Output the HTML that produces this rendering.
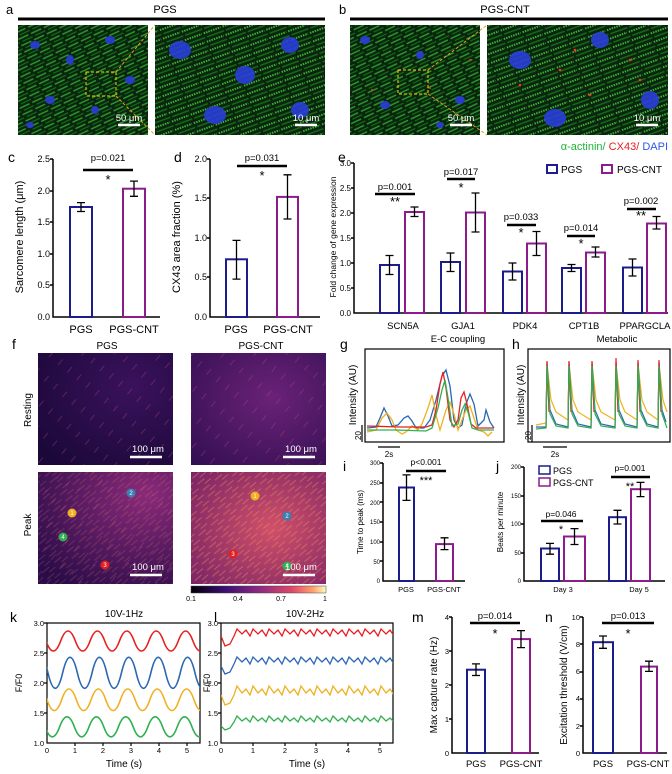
<!DOCTYPE html>
<html><head><meta charset="utf-8"><style>
html,body{margin:0;padding:0;background:#fff}
svg{display:block;font-family:"Liberation Sans",sans-serif}
</style></head><body>
<svg width="672" height="774" viewBox="0 0 672 774" xmlns="http://www.w3.org/2000/svg">
<defs>
<linearGradient id="cb" x1="0" x2="1" y1="0" y2="0">
<stop offset="0" stop-color="#000004"/><stop offset="0.25" stop-color="#3b0f70"/><stop offset="0.5" stop-color="#8c2981"/><stop offset="0.75" stop-color="#de4968"/><stop offset="0.9" stop-color="#fe9f6d"/><stop offset="1" stop-color="#fcfdbf"/></linearGradient>
<radialGradient id="rp" cx="0.7" cy="0.3" r="0.9"><stop offset="0" stop-color="#3a125c"/><stop offset="1" stop-color="#1a0838"/></radialGradient>
<radialGradient id="rc" cx="0.6" cy="0.4" r="0.9"><stop offset="0" stop-color="#6a2278"/><stop offset="1" stop-color="#2e0d4e"/></radialGradient>
<radialGradient id="pp" cx="0.8" cy="0.2" r="1"><stop offset="0" stop-color="#8a2a7a"/><stop offset="1" stop-color="#2a0c4a"/></radialGradient>
<radialGradient id="pc" cx="0.6" cy="0.5" r="0.9"><stop offset="0" stop-color="#d0506a"/><stop offset="1" stop-color="#6a1c66"/></radialGradient>
<pattern id="fib" width="14" height="7" patternUnits="userSpaceOnUse" patternTransform="rotate(-25)">
<rect width="14" height="7" fill="#0a240d"/><line x1="0" y1="1.5" x2="11" y2="1.5" stroke="#2aa02c" stroke-width="1.4"/><line x1="3" y1="5" x2="14" y2="5" stroke="#176a1c" stroke-width="1.2"/></pattern>
<pattern id="fib2" width="20" height="9" patternUnits="userSpaceOnUse" patternTransform="rotate(-20)">
<rect width="20" height="9" fill="#0a240d"/><line x1="0" y1="2" x2="18" y2="2" stroke="#38b234" stroke-width="2" stroke-dasharray="1.5,1"/><line x1="2" y1="6.5" x2="20" y2="6.5" stroke="#176a1c" stroke-width="1.6"/></pattern>
<pattern id="str" width="16" height="8" patternUnits="userSpaceOnUse" patternTransform="rotate(-40)">
<line x1="0" y1="2" x2="9" y2="2" stroke="#f08050" stroke-width="1.2" opacity="0.45"/><line x1="6" y1="6" x2="14" y2="6" stroke="#ffb060" stroke-width="1" opacity="0.35"/></pattern>
<pattern id="str2" width="22" height="12" patternUnits="userSpaceOnUse" patternTransform="rotate(-50)">
<line x1="0" y1="3" x2="7" y2="3" stroke="#c04a80" stroke-width="1" opacity="0.35"/></pattern>
<clipPath id="ck"><rect x="47" y="623" width="153" height="120"/></clipPath>
<clipPath id="cl"><rect x="221" y="623" width="172" height="120"/></clipPath>
</defs>

<rect x="18" y="25" width="130" height="110" fill="url(#fib)"/>
<rect x="155" y="25" width="170" height="110" fill="url(#fib2)"/>
<rect x="350" y="25" width="130" height="110" fill="url(#fib)"/>
<rect x="487" y="25" width="181" height="110" fill="url(#fib2)"/>
<g fill="#2a3ed8" opacity="0.9">
<ellipse cx="35" cy="45" rx="5" ry="4"/><ellipse cx="70" cy="60" rx="4" ry="5"/><ellipse cx="110" cy="40" rx="5" ry="4"/><ellipse cx="50" cy="100" rx="5" ry="4"/><ellipse cx="95" cy="110" rx="4" ry="4"/><ellipse cx="130" cy="80" rx="5" ry="4"/><ellipse cx="30" cy="125" rx="4" ry="3"/>
<ellipse cx="180" cy="50" rx="11" ry="9"/><ellipse cx="245" cy="75" rx="10" ry="9"/><ellipse cx="290" cy="45" rx="9" ry="8"/><ellipse cx="215" cy="115" rx="11" ry="9"/><ellipse cx="300" cy="110" rx="9" ry="8"/>
<ellipse cx="365" cy="40" rx="5" ry="4"/><ellipse cx="420" cy="55" rx="4" ry="4"/><ellipse cx="460" cy="100" rx="5" ry="4"/><ellipse cx="385" cy="105" rx="5" ry="4"/><ellipse cx="440" cy="125" rx="4" ry="3"/>
<ellipse cx="520" cy="60" rx="11" ry="9"/><ellipse cx="600" cy="40" rx="9" ry="8"/><ellipse cx="555" cy="118" rx="11" ry="9"/><ellipse cx="650" cy="100" rx="9" ry="9"/>
</g>
<g fill="#ff3020"><circle cx="400" cy="70" r="1"/><circle cx="430" cy="88" r="1"/><circle cx="470" cy="60" r="1"/><circle cx="372" cy="90" r="1"/><circle cx="520" cy="85" r="1.3"/><circle cx="560" cy="70" r="1.3"/><circle cx="590" cy="95" r="1.3"/><circle cx="630" cy="60" r="1.3"/><circle cx="640" cy="80" r="1.3"/><circle cx="575" cy="50" r="1.3"/></g>
<rect x="86" y="72" width="30" height="24" fill="none" stroke="#f5d010" stroke-dasharray="3,2"/>
<rect x="398" y="70" width="30" height="24" fill="none" stroke="#f5d010" stroke-dasharray="3,2"/>
<g stroke="#e8a020" stroke-dasharray="3,2"><line x1="116" y1="72" x2="155" y2="25"/><line x1="116" y1="96" x2="155" y2="135"/><line x1="428" y1="70" x2="487" y2="25"/><line x1="428" y1="94" x2="487" y2="135"/></g>
<g stroke="#fff" stroke-width="2.5"><line x1="118" y1="125" x2="140" y2="125"/><line x1="295" y1="125" x2="317" y2="125"/><line x1="450" y1="125" x2="472" y2="125"/><line x1="636" y1="125" x2="658" y2="125"/></g>
<g fill="#fff" font-size="9.5" text-anchor="middle"><text x="129" y="121">50 μm</text><text x="306" y="121">10 μm</text><text x="461" y="121">50 μm</text><text x="647" y="121">10 μm</text></g>

<rect x="38" y="353" width="135" height="112" fill="url(#rp)"/><rect x="38" y="353" width="135" height="112" fill="url(#str2)"/>
<rect x="191" y="353" width="135" height="112" fill="url(#rc)"/><rect x="191" y="353" width="135" height="112" fill="url(#str2)"/>
<rect x="38" y="472" width="135" height="112" fill="url(#pp)"/><rect x="38" y="472" width="135" height="112" fill="url(#str2)"/><rect x="38" y="472" width="135" height="112" fill="url(#str)" opacity="0.5"/>
<rect x="191" y="472" width="135" height="112" fill="url(#pc)"/><rect x="191" y="472" width="135" height="112" fill="url(#str)"/>
<g stroke="#fff" stroke-width="2.5"><line x1="130" y1="457" x2="162" y2="457"/><line x1="283" y1="457" x2="315" y2="457"/><line x1="130" y1="575" x2="162" y2="575"/><line x1="283" y1="575" x2="315" y2="575"/></g>
<rect x="191" y="586" width="135" height="7" fill="url(#cb)" stroke="#444" stroke-width="0.5"/>
<circle cx="72" cy="513" r="4.5" fill="#f0b020"/><circle cx="131" cy="493" r="4.5" fill="#3a80b0"/><circle cx="105" cy="565" r="4.5" fill="#e02020"/><circle cx="63" cy="537" r="4.5" fill="#30b050"/>
<circle cx="255" cy="496" r="4.5" fill="#f0b020"/><circle cx="287" cy="516" r="4.5" fill="#3a80b0"/><circle cx="233" cy="554" r="4.5" fill="#e02020"/><circle cx="287" cy="566" r="4.5" fill="#30b050"/>

<g stroke="#000" stroke-width="1.5" fill="none">
<path d="M53,159V317H160 M50,159h3 M50,191h3 M50,222h3 M50,254h3 M50,285h3"/>
<path d="M210,159V317H320 M207,159h3 M207,198h3 M207,238h3 M207,277h3"/>
<path d="M354,163V313H668 M351,163h3 M351,188h3 M351,213h3 M351,238h3 M351,263h3 M351,288h3"/>
<path d="M383,463V581H465 M380,463h3 M380,483h3 M380,502h3 M380,522h3 M380,542h3 M380,561h3"/>
<path d="M524,467V581H665 M521,467h3 M521,496h3 M521,524h3 M521,553h3"/>
<path d="M452,617V753H539 M449,617h3 M449,651h3 M449,685h3 M449,719h3"/>
<path d="M583,617V753H667 M580,617h3 M580,644h3 M580,672h3 M580,699h3 M580,726h3"/>
</g>
<g stroke="#000" stroke-width="1.2" fill="none">
<rect x="365" y="349" width="139" height="93"/><rect x="528" y="349" width="142" height="93"/>
<rect x="47" y="623" width="153" height="120"/><rect x="221" y="623" width="172" height="120"/>
<path d="M362,425V442 M378,447H400 M532,425V442 M543,447H567"/>
<path d="M44,623h3 M44,653h3 M44,683h3 M44,713h3 M218,623h3 M218,653h3 M218,683h3 M218,713h3 M75,743v3 M103,743v3 M131,743v3 M159,743v3 M187,743v3 M253,743v3 M285,743v3 M316,743v3 M348,743v3 M380,743v3"/>
</g>

<g fill="#fff" stroke-width="2">
<g stroke="#1c1c8c">
<rect x="70" y="207" width="22" height="110"/><rect x="226" y="259.3" width="21" height="57.7"/>
<rect x="380" y="265" width="19" height="48"/><rect x="441" y="262" width="19" height="51"/><rect x="503" y="271.5" width="19" height="41.5"/><rect x="562" y="268" width="19" height="45"/><rect x="623" y="267.5" width="19" height="45.5"/>
<rect x="399" y="487.5" width="15" height="93.5"/><rect x="541" y="548.5" width="18" height="32.5"/><rect x="609" y="517.2" width="17" height="63.8"/>
<rect x="467" y="669.7" width="18" height="83.3"/><rect x="593" y="642.2" width="20" height="110.8"/>
<rect x="547" y="165" width="10" height="8"/><rect x="539" y="466" width="11" height="8" stroke-width="1.5"/>
</g>
<g stroke="#8c1c8c">
<rect x="123" y="188.7" width="22" height="128.3"/><rect x="277" y="196.9" width="21" height="120.1"/>
<rect x="405" y="212" width="19" height="101"/><rect x="466" y="212.5" width="19" height="100.5"/><rect x="527" y="243.5" width="19" height="69.5"/><rect x="586" y="252.5" width="19" height="60.5"/><rect x="647" y="223.5" width="19" height="89.5"/>
<rect x="436" y="544.1" width="17" height="36.9"/><rect x="564" y="536.5" width="21" height="44.5"/><rect x="631" y="489.2" width="19" height="91.8"/>
<rect x="512" y="639.1" width="18" height="113.9"/><rect x="641" y="666.6" width="16" height="86.4"/>
<rect x="602" y="165" width="10" height="8"/><rect x="539" y="478" width="11" height="8" stroke-width="1.5"/>
</g></g>
<g stroke="#000" stroke-width="1.3" fill="none">
<path d="M77,202.6h8M81,202.6V211.5M77,211.5h8 M130,181.1h8M134,181.1V196.3M130,196.3h8"/>
<path d="M232.5,240.4h8M236.5,240.4V279.1M232.5,279.1h8 M283.5,174.8h8M287.5,174.8V219M283.5,219h8"/>
<path d="M385.5,255.5h8M389.5,255.5V274.5M385.5,274.5h8 M410.5,207h8M414.5,207V216.5M410.5,216.5h8"/>
<path d="M446.5,253h8M450.5,253V271.5M446.5,271.5h8 M471.5,193h8M475.5,193V232M471.5,232h8"/>
<path d="M508.5,263h8M512.5,263V280M508.5,280h8 M532.5,231.5h8M536.5,231.5V255.5M532.5,255.5h8"/>
<path d="M567.5,264.5h8M571.5,264.5V271.5M567.5,271.5h8 M591.5,247h8M595.5,247V257M591.5,257h8"/>
<path d="M628.5,259h8M632.5,259V276M628.5,276h8 M652.5,216.5h8M656.5,216.5V229M652.5,229h8"/>
<path d="M402.5,474.9h8M406.5,474.9V500.4M402.5,500.4h8 M440.5,537.8h8M444.5,537.8V549.6M440.5,549.6h8"/>
<path d="M546,543.4h8M550,543.4V554.2M546,554.2h8 M570.5,528.6h8M574.5,528.6V544.5M570.5,544.5h8"/>
<path d="M613.5,510.3h8M617.5,510.3V524M613.5,524h8 M636.5,482.4h8M640.5,482.4V496.6M636.5,496.6h8"/>
<path d="M472,663.9h8M476,663.9V675.5M472,675.5h8 M517,630.6h8M521,630.6V647.6M517,647.6h8"/>
<path d="M599,636h8M603,636V648.3M599,648.3h8 M645,661.2h8M649,661.2V671.4M645,671.4h8"/>
</g>
<g stroke="#000" stroke-width="2.5">
<line x1="83" y1="170" x2="133" y2="170"/><line x1="237" y1="166" x2="287" y2="166"/>
<line x1="375" y1="194" x2="415" y2="194"/><line x1="447" y1="179" x2="475" y2="179"/><line x1="507" y1="225" x2="536" y2="225"/><line x1="567" y1="236" x2="595" y2="236"/><line x1="627" y1="209" x2="656" y2="209"/>
<line x1="406" y1="471" x2="446" y2="471"/><line x1="541" y1="521" x2="583" y2="521"/><line x1="611" y1="477" x2="650" y2="477"/>
<line x1="470" y1="623" x2="520" y2="623"/><line x1="602" y1="623" x2="654" y2="623"/>
</g>

<g fill="none" stroke-width="1.3">
<polyline stroke="#2a68b0" points="367,428 376,427 380,418 384,408 388,416 392,426 398,425 404,418 408,416 412,421 416,428 424,428 430,420 436,400 442,376 446,370 450,386 454,420 458,428 462,425 466,404 470,394 474,404 478,426 484,420 486,410 490,422 494,428"/>
<polyline stroke="#f0b020" points="367,432 376,430 382,418 387,413 392,420 396,430 402,434 406,432 412,426 418,430 422,424 428,408 432,395 436,415 440,430 446,410 450,402 454,414 458,430 462,420 466,410 470,406 474,418 478,430 484,432 488,436 492,432"/>
<polyline stroke="#e82020" points="367,426 400,427 426,427 432,425 436,410 440,384 443,372 446,388 450,420 454,427 458,420 461,398 464,392 467,404 471,424 476,428 494,428"/>
<polyline stroke="#30b050" points="367,430 396,430 426,431 432,428 438,408 442,390 445,380 448,398 452,426 458,424 462,410 465,404 468,412 472,428 478,430 494,430"/>
</g>
<g fill="none" stroke-width="1.2">
<path stroke="#f0b020" d="M536,425 L546,423 L547,364 L551,400 L556,412 L568,420 L569,364 L573,400 L578,412 L591,420 L592,364 L596,400 L601,412 L615,420 L616,364 L620,400 L625,412 L637,420 L638,364 L642,400 L647,412 L658,420 L659,364 L663,400 L667,412"/>
<path stroke="#2a68b0" d="M536,427 L546,427 L547,362 L550,410 L556,424 L568,427 L569,362 L572,410 L578,424 L591,427 L592,362 L595,410 L601,424 L615,427 L616,362 L619,410 L625,424 L637,427 L638,362 L641,410 L647,424 L658,427 L659,362 L662,410 L666,422"/>
<path stroke="#e82020" d="M546,428 L547,361 L549,412 M568,428 L569,361 L571,412 M591,428 L592,361 L594,412 M615,428 L616,358 L618,412 M637,428 L638,360 L640,412 M658,428 L659,360 L661,412"/>
<path stroke="#30b050" d="M536,429 L546,428 L547,366 L550,414 L556,426 L568,428 L569,366 L572,414 L578,426 L591,428 L592,366 L595,414 L601,426 L615,428 L616,366 L619,414 L625,426 L637,428 L638,366 L641,414 L647,426 L658,428 L659,366 L662,414 L667,428"/>
</g>
<g fill="none" stroke-width="1.6" clip-path="url(#ck)">
<path stroke="#e82020" d="M31.25,641 Q38.6,621 45.95,641 T60.65,641 T75.35,641 T90.05,641 T104.75,641 T119.45,641 T134.15,641 T148.85,641 T163.55,641 T178.25,641 T192.95,641 T207.65,641"/>
<path stroke="#2a68b0" d="M33.25,672.8 Q40.6,641.8 47.95,672.8 T62.65,672.8 T77.35,672.8 T92.05,672.8 T106.75,672.8 T121.45,672.8 T136.15,672.8 T150.85,672.8 T165.55,672.8 T180.25,672.8 T194.95,672.8 T209.65,672.8"/>
<path stroke="#f0b020" d="M32.25,699.8 Q39.6,678.2 46.95,699.8 T61.65,699.8 T76.35,699.8 T91.05,699.8 T105.75,699.8 T120.45,699.8 T135.15,699.8 T149.85,699.8 T164.55,699.8 T179.25,699.8 T193.95,699.8 T208.65,699.8"/>
<path stroke="#30b050" d="M30.25,726.8 Q37.6,706.8 44.95,726.8 T59.65,726.8 T74.35,726.8 T89.05,726.8 T103.75,726.8 T118.45,726.8 T133.15,726.8 T147.85,726.8 T162.55,726.8 T177.25,726.8 T191.95,726.8 T206.65,726.8"/>
</g>
<g fill="none" stroke-width="1.3" clip-path="url(#cl)">
<path stroke="#e82020" d="M221,636 l4,10 l5,-2 l4,-8 l3,-7 l5,5 l4,-4 l4,6 l3,-7 l5,5 l4,-4 l4,6 l3,-7 l5,5 l4,-4 l4,6 l3,-7 l5,5 l4,-4 l4,6 l3,-7 l5,5 l4,-4 l4,6 l3,-7 l5,5 l4,-4 l4,6 l3,-7 l5,5 l4,-4 l4,6 l3,-7 l5,5 l4,-4 l4,6 l3,-7 l5,5 l4,-4 l4,6 l3,-7 l5,5 l4,-4 l4,6"/>
<path stroke="#2a68b0" d="M221,666 l4,8 l5,-2 l4,-8 l3,-7 l5,5 l4,-4 l4,6 l3,-7 l5,5 l4,-4 l4,6 l3,-7 l5,5 l4,-4 l4,6 l3,-7 l5,5 l4,-4 l4,6 l3,-7 l5,5 l4,-4 l4,6 l3,-7 l5,5 l4,-4 l4,6 l3,-7 l5,5 l4,-4 l4,6 l3,-7 l5,5 l4,-4 l4,6 l3,-7 l5,5 l4,-4 l4,6 l3,-7 l5,5 l4,-4 l4,6"/>
<path stroke="#f0b020" d="M221,695 l4,10 l5,-2 l4,-8 l3,-9 l5,7 l4,-4 l4,6 l3,-9 l5,7 l4,-4 l4,6 l3,-9 l5,7 l4,-4 l4,6 l3,-9 l5,7 l4,-4 l4,6 l3,-9 l5,7 l4,-4 l4,6 l3,-9 l5,7 l4,-4 l4,6 l3,-9 l5,7 l4,-4 l4,6 l3,-9 l5,7 l4,-4 l4,6 l3,-9 l5,7 l4,-4 l4,6 l3,-9 l5,7 l4,-4 l4,6"/>
<path stroke="#30b050" d="M221,726 l4,4 l5,-2 l4,-6 l3,-6 l5,5 l4,-3 l4,4 l3,-6 l5,5 l4,-3 l4,4 l3,-6 l5,5 l4,-3 l4,4 l3,-6 l5,5 l4,-3 l4,4 l3,-6 l5,5 l4,-3 l4,4 l3,-6 l5,5 l4,-3 l4,4 l3,-6 l5,5 l4,-3 l4,4 l3,-6 l5,5 l4,-3 l4,4 l3,-6 l5,5 l4,-3 l4,4 l3,-6 l5,5 l4,-3 l4,4"/>
</g>

<g font-size="11">
<text x="6" y="14" font-size="13">a</text>
<text x="165" y="13" text-anchor="middle">PGS</text>
<line x1="18" y1="19" x2="325" y2="19" stroke="#000" stroke-width="3"/>
<text x="339" y="14" font-size="13">b</text>
<text x="505" y="13" text-anchor="middle">PGS-CNT</text>
<line x1="350" y1="19" x2="668" y2="19" stroke="#000" stroke-width="3"/>
<text x="668" y="150" text-anchor="end"><tspan fill="#1eb33c">α-actinin/</tspan><tspan fill="#e8201c"> CX43/</tspan><tspan fill="#2a5ae8"> DAPI</tspan></text>
<text x="8" y="162" font-size="14">c</text>
<text x="174" y="162" font-size="14">d</text>
<text x="338" y="162" font-size="14">e</text>
<text x="12" y="349" font-size="14">f</text>
<text x="340" y="349" font-size="14">g</text>
<text x="512" y="349" font-size="14">h</text>
<text x="343" y="471" font-size="14">i</text>
<text x="496" y="471" font-size="14">j</text>
<text x="10" y="622" font-size="14">k</text>
<text x="214" y="622" font-size="14">l</text>
<text x="412" y="622" font-size="14">m</text>
<text x="545" y="622" font-size="14">n</text>
<text transform="translate(23,237) rotate(-90)" text-anchor="middle">Sarcomere length (μm)</text>
<text transform="translate(180,237) rotate(-90)" text-anchor="middle">CX43 area fraction (%)</text>
<text transform="translate(336,237) rotate(-90)" text-anchor="middle" font-size="8.5">Fold change of gene expression</text>
<text x="81" y="333" text-anchor="middle">PGS</text><text x="134" y="333" text-anchor="middle">PGS-CNT</text>
<text x="236" y="333" text-anchor="middle">PGS</text><text x="288" y="333" text-anchor="middle">PGS-CNT</text>
<g font-size="9.5" text-anchor="middle">
<text x="403" y="329">SCN5A</text><text x="463" y="329">GJA1</text><text x="525" y="329">PDK4</text><text x="584" y="329">CPT1B</text><text x="645" y="329">PPARGCLA</text>
<text x="458" y="342">E-C coupling</text><text x="617" y="342">Metabolic</text>
</g>
<text x="561" y="173" font-size="10">PGS</text><text x="617" y="173" font-size="10">PGS-CNT</text>
<text x="107" y="349" text-anchor="middle" font-size="10">PGS</text>
<text x="261" y="349" text-anchor="middle" font-size="10">PGS-CNT</text>
<text transform="translate(31,410) rotate(-90)" text-anchor="middle" font-size="10">Resting</text>
<text transform="translate(31,525) rotate(-90)" text-anchor="middle" font-size="10">Peak</text>
<g fill="#fff" font-size="9.5" text-anchor="middle">
<text x="148" y="452">100 μm</text><text x="301" y="452">100 μm</text>
<text x="148" y="570">100 μm</text><text x="301" y="570">100 μm</text>
</g>
<g font-size="7" text-anchor="middle"><text x="191" y="601">0.1</text><text x="238" y="601">0.4</text><text x="281" y="601">0.7</text><text x="325" y="601">1</text></g>
<text transform="translate(356,395) rotate(-90)" text-anchor="middle" font-size="10">Intensity (AU)</text>
<text transform="translate(524,395) rotate(-90)" text-anchor="middle" font-size="10">Intensity (AU)</text>
<text transform="translate(361,440) rotate(-90)" font-size="8">20</text>
<text transform="translate(531,440) rotate(-90)" font-size="8">20</text>
<text x="389" y="457" text-anchor="middle" font-size="8">2s</text>
<text x="555" y="457" text-anchor="middle" font-size="8">2s</text>
<text transform="translate(363,522) rotate(-90)" text-anchor="middle" font-size="8">Time to peak (ms)</text>
<text transform="translate(503,522) rotate(-90)" text-anchor="middle" font-size="8">Beats per minute</text>
<text x="406" y="592" text-anchor="middle" font-size="7.5">PGS</text><text x="444" y="592" text-anchor="middle" font-size="7.5">PGS-CNT</text>
<text x="563" y="592" text-anchor="middle" font-size="7.5">Day 3</text><text x="639" y="592" text-anchor="middle" font-size="7.5">Day 5</text>
<text x="553" y="474" font-size="9">PGS</text><text x="553" y="486" font-size="9">PGS-CNT</text>
<text x="124" y="617" text-anchor="middle" font-size="10">10V-1Hz</text>
<text x="305" y="617" text-anchor="middle" font-size="10">10V-2Hz</text>
<text transform="translate(22,683) rotate(-90)" text-anchor="middle" font-size="9">F/F0</text>
<text transform="translate(210,683) rotate(-90)" text-anchor="middle" font-size="9">F/F0</text>
<text x="124" y="767" text-anchor="middle" font-size="10">Time (s)</text>
<text x="307" y="767" text-anchor="middle" font-size="10">Time (s)</text>
<text transform="translate(437,685) rotate(-90)" text-anchor="middle" font-size="10">Max capture rate (Hz)</text>
<text transform="translate(567,685) rotate(-90)" text-anchor="middle" font-size="10">Excitation threshold (V/cm)</text>
<text x="476" y="767" text-anchor="middle" font-size="9.5">PGS</text><text x="521" y="767" text-anchor="middle" font-size="9.5">PGS-CNT</text>
<text x="603" y="767" text-anchor="middle" font-size="9.5">PGS</text><text x="648" y="767" text-anchor="middle" font-size="9.5">PGS-CNT</text>
<g font-size="9.5" text-anchor="middle">
<text x="108" y="161">p=0.021</text><text x="108" y="184" font-size="13">*</text>
<text x="262" y="161">p=0.031</text><text x="262" y="180" font-size="13">*</text>
<text x="395" y="190">p=0.001</text><text x="395" y="206" font-size="13">**</text>
<text x="461" y="175">p=0.017</text><text x="461" y="192" font-size="13">*</text>
<text x="521" y="220">p=0.033</text><text x="521" y="237" font-size="13">*</text>
<text x="581" y="231">p=0.014</text><text x="581" y="248" font-size="13">*</text>
<text x="641" y="204">p=0.002</text><text x="641" y="220" font-size="13">**</text>
<text x="426" y="465" font-size="8.5">p&lt;0.001</text><text x="426" y="484" font-size="11">***</text>
<text x="561" y="517" font-size="8.5">p=0.046</text><text x="561" y="533" font-size="11">*</text>
<text x="630" y="471" font-size="8.5">p=0.001</text><text x="630" y="490" font-size="11">**</text>
<text x="495" y="619">p=0.014</text><text x="495" y="638" font-size="13">*</text>
<text x="628" y="619">p=0.013</text><text x="628" y="638" font-size="13">*</text>
</g>
<g font-size="9" text-anchor="end">
<text x="50" y="162">2.5</text><text x="50" y="194">2.0</text><text x="50" y="225">1.5</text><text x="50" y="257">1.0</text><text x="50" y="288">0.5</text><text x="50" y="320">0.0</text>
<text x="207" y="162">2.0</text><text x="207" y="201">1.5</text><text x="207" y="241">1.0</text><text x="207" y="280">0.5</text><text x="207" y="320">0.0</text>
</g>
<g font-size="8" text-anchor="end">
<text x="351" y="166">3.0</text><text x="351" y="191">2.5</text><text x="351" y="216">2.0</text><text x="351" y="241">1.5</text><text x="351" y="266">1.0</text><text x="351" y="291">0.5</text><text x="351" y="316">0.0</text>
</g>
<g font-size="6" text-anchor="end">
<text x="380" y="465">300</text><text x="380" y="485">250</text><text x="380" y="505">200</text><text x="380" y="524">150</text><text x="380" y="544">100</text><text x="380" y="564">50</text><text x="380" y="583">0</text>
<text x="521" y="469">200</text><text x="521" y="498">150</text><text x="521" y="526">100</text><text x="521" y="555">50</text><text x="521" y="583">0</text>
</g>
<g font-size="7.5" text-anchor="end">
<text x="44" y="626">3.0</text><text x="44" y="656">2.5</text><text x="44" y="686">2.0</text><text x="44" y="716">1.5</text><text x="44" y="746">1.0</text>
<text x="218" y="626">3.0</text><text x="218" y="656">2.5</text><text x="218" y="686">2.0</text><text x="218" y="716">1.5</text><text x="218" y="746">1.0</text>
<text x="449" y="620">4</text><text x="449" y="654">3</text><text x="449" y="688">2</text><text x="449" y="722">1</text><text x="449" y="756">0</text>
<text x="580" y="620">10</text><text x="580" y="647">8</text><text x="580" y="674">6</text><text x="580" y="701">4</text><text x="580" y="729">2</text><text x="580" y="756">0</text>
</g>
<g font-size="7.5" text-anchor="middle">
<text x="47" y="753">0</text><text x="75" y="753">1</text><text x="103" y="753">2</text><text x="131" y="753">3</text><text x="159" y="753">4</text><text x="187" y="753">5</text>
<text x="221" y="753">0</text><text x="253" y="753">1</text><text x="285" y="753">2</text><text x="316" y="753">3</text><text x="348" y="753">4</text><text x="380" y="753">5</text>
</g>
<g font-size="6" fill="#fff" text-anchor="middle">
<text x="72" y="515">1</text><text x="131" y="495">2</text><text x="105" y="567">3</text><text x="63" y="539">4</text>
<text x="255" y="498">1</text><text x="287" y="518">2</text><text x="233" y="556">3</text><text x="287" y="568">4</text>
</g>
</g>
</svg>
</body></html>
